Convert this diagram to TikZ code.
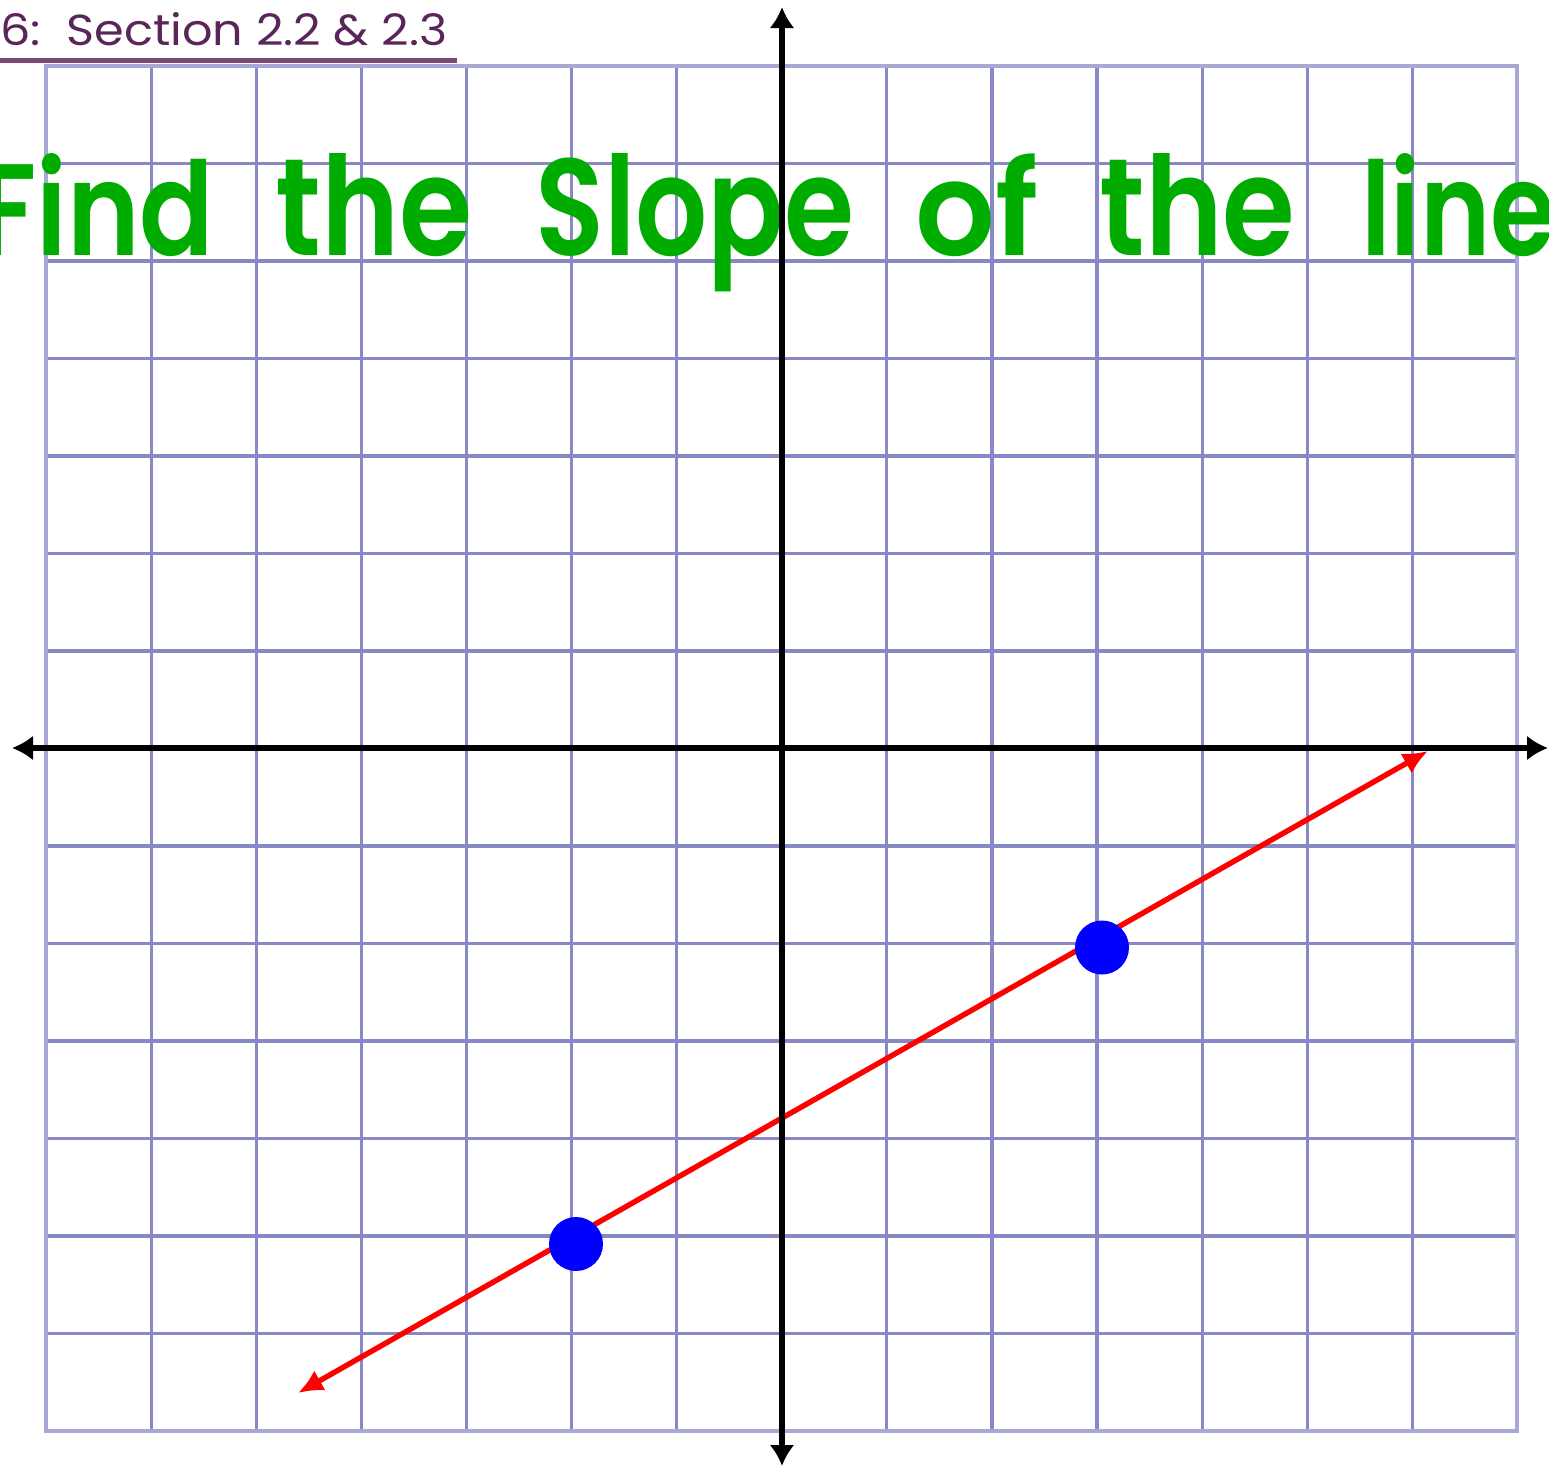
\documentclass[tikz,border=0pt]{standalone}
\usepackage{fontspec}
\usetikzlibrary{arrows.meta}
\newfontfamily\titlefont{Poppins}[BoldFont={Poppins SemiBold}]
\definecolor{gridblue}{RGB}{136,136,198}
\definecolor{gridborder}{RGB}{168,168,214}
\definecolor{titlegreen}{RGB}{0,172,0}
\definecolor{headpurple}{RGB}{90,38,90}
\definecolor{underpurple}{RGB}{122,74,122}
\tikzset{
  gridline/.style={draw=gridblue, line width=1.6pt},
  gridframe/.style={draw=gridborder, line width=2.4pt},
  axisline/.style={draw=black, line width=3pt,
    {Latex[length=10.5pt,width=12.5pt]}-{Latex[length=10.5pt,width=12.5pt]}},
  redline/.style={draw=red, line width=2.7pt,
    {Latex[length=12.5pt,width=11.5pt]}-{Latex[length=12.5pt,width=11.5pt]}},
  dotpt/.style={circle, fill=blue, minimum size=27pt, inner sep=0pt},
  titleword/.style={anchor=base west, inner sep=0pt, text=titlegreen, font=\titlefont\bfseries},
  headtext/.style={anchor=base west, inner sep=0pt, text=headpurple, font=\titlefont},
}
\begin{document}
\begin{tikzpicture}[x=0.5pt,y=-0.5pt]
\useasboundingbox (0,0) rectangle (1549,1468);
% grid
\foreach \i in {1,...,13} { \draw[gridline] ({46+105.1*\i},66) -- ({46+105.1*\i},1431); }
\foreach \j in {1,...,13} { \draw[gridline] (46,{66+97.5*\j}) -- (1517,{66+97.5*\j}); }
\draw[gridframe] (46,66) rectangle (1517,1431);
% title
\node[titleword] (w1) at (-22,255) {\resizebox{118pt}{51pt}{Find}};
\node[titleword] (w2) at (275,255) {\resizebox{98.5pt}{51pt}{the}};
\node[titleword] (w3) at (535,255) {\resizebox{159.5pt}{51pt}{Slope}};
\node[titleword] (w4) at (915,255) {\resizebox{61.5pt}{51pt}{of}};
\node[titleword] (w5) at (1099,255) {\resizebox{98pt}{51pt}{the}};
\node[titleword] (w6) at (1361,255) {\resizebox{97.5pt}{51pt}{line}};
% header
\node[headtext] (head) at (0,45) {\resizebox{223.5pt}{16.5pt}{6:\ \ Section 2.2 \& 2.3}};
\draw[draw=underpurple, line width=2.5pt] (0,60) -- (457,60);
% red line
\coordinate (r1) at (298,1393);
\coordinate (r2) at (1428,751);
\draw[redline] (r1) -- (r2);
% axes
\coordinate (xl) at (12,748);
\coordinate (xr) at (1548,748);
\coordinate (yt) at (782,7);
\coordinate (yb) at (782,1466);
\draw[axisline] (xl) -- (xr);
\draw[axisline] (yb) -- (yt);
% points
\node[dotpt] (p1) at (576,1244) {};
\node[dotpt] (p2) at (1102,947.5) {};
\end{tikzpicture}
\end{document}
